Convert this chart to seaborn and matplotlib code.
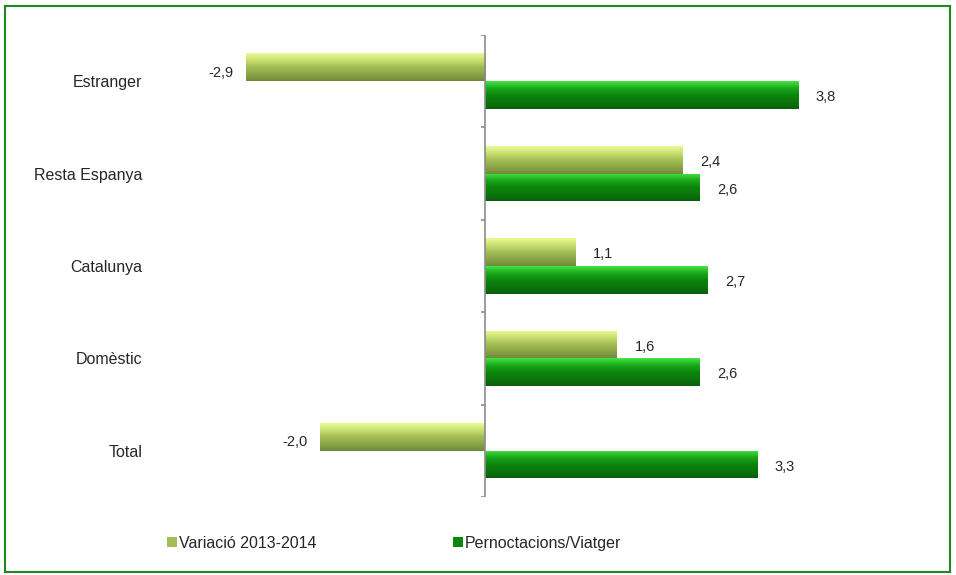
import numpy as np
import pandas as pd
import matplotlib.pyplot as plt
import matplotlib.colors as mcolors
from matplotlib.patches import Rectangle
import seaborn as sns

# Dades
categories = ["Estranger", "Resta Espanya", "Catalunya", "Domèstic", "Total"]
variacio = [-2.9, 2.4, 1.1, 1.6, -2.0]
pernoctacions = [3.8, 2.6, 2.7, 2.6, 3.3]
series = ["Variació 2013-2014", "Pernoctacions/Viatger"]

df = pd.DataFrame({
    "categoria": categories * 2,
    "valor": variacio + pernoctacions,
    "serie": [series[0]] * len(categories) + [series[1]] * len(categories),
})

sns.set_style("white")
plt.rcParams["font.family"] = ["Liberation Sans", "DejaVu Sans"]

colors = {series[0]: "#a3bd55", series[1]: "#0d860d"}
grads = {
    series[0]: ["#e9fb93", "#c9df72", "#a3bd55", "#8ba646", "#6f8a3a"],
    series[1]: ["#45e445", "#1aa81a", "#0d860d", "#0b760b", "#0a5f0a"],
}

fig = plt.figure(figsize=(9.56, 5.75), dpi=100)
ax = fig.add_axes([0.162, 0.1357, 0.776, 0.8035])

sns.barplot(data=df, x="valor", y="categoria", hue="serie", order=categories,
            hue_order=series, palette=colors, orient="h", width=0.6,
            edgecolor="none", legend=False, ax=ax)

# gradient "3D" sobre cada barra
for cont, s in zip(ax.containers, series):
    cmap = mcolors.LinearSegmentedColormap.from_list(s, grads[s])
    for p, v in zip(cont.patches, df[df.serie == s].valor):
        x0, y0 = p.get_x(), p.get_y()
        w, h = p.get_width(), p.get_height()
        grad = np.linspace(0, 1, 64).reshape(-1, 1)
        im = ax.imshow(grad, cmap=cmap, aspect="auto", interpolation="bilinear",
                       extent=[x0, x0 + w, y0 + h, y0], zorder=2)
        im.set_clip_path(p)
        txt = f"{v:.1f}".replace(".", ",")
        yc = y0 + h / 2
        if v >= 0:
            ax.annotate(txt, (x0 + w, yc), xytext=(13, -1.5), textcoords="offset points",
                        ha="left", va="center", fontsize=10.5)
        else:
            ax.annotate(txt, (x0 + w, yc), xytext=(-9, -4), textcoords="offset points",
                        ha="right", va="center", fontsize=10.5)

ax.set_xlim(-4, 5)
ax.set_ylim(4.5, -0.5)
ax.set_xlabel("")
ax.set_ylabel("")
ax.set_xticks([])
for sp in ax.spines.values():
    sp.set_visible(False)
ax.tick_params(axis="y", length=0, pad=9, labelsize=11.5)

# eix vertical a zero amb marques
ax.axvline(0, color="#8c8c8c", lw=1.2, zorder=3)
ax.hlines(np.arange(-0.5, 5, 1), -0.04, 0, color="#8c8c8c", lw=1.2, zorder=3)

# llegenda
handles = [Rectangle((0, 0), 1, 1, facecolor=colors[s], edgecolor="none") for s in series]
fig.legend(handles, series, loc="center left", bbox_to_anchor=(0.160, 0.055),
           ncol=2, frameon=False, fontsize=11.5, handlelength=0.6, handleheight=0.6,
           handletextpad=0.1, columnspacing=8.6)

# marc verd
fig.patches.append(Rectangle((5 / 956, 3 / 575), 945 / 956, 566 / 575, transform=fig.transFigure,
                             fill=False, edgecolor="#1e8a1e", lw=1.5))

fig.savefig("out.png", dpi=100)
